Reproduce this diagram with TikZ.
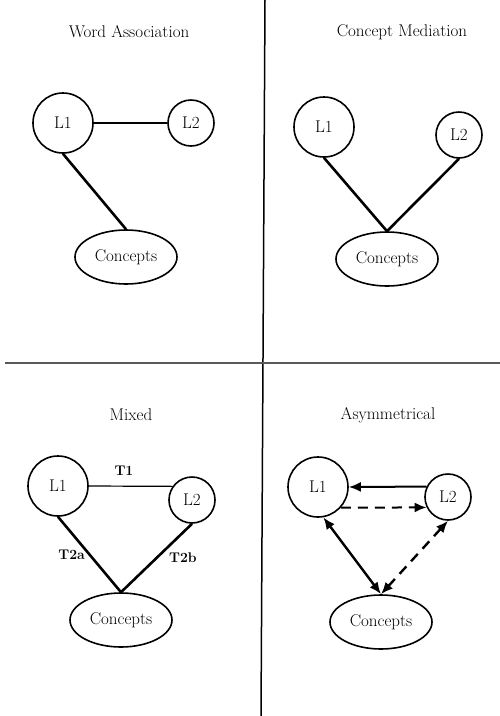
\documentclass[tikz,border=0pt]{standalone}
\usepackage{xcolor}
\usepackage{tikz}
\usetikzlibrary{shapes,arrows.meta,positioning}

\begin{document}
\begin{tikzpicture}[
    x=1pt, y=-1pt,
    on grid,
    font=\fontsize{17}{20}\selectfont,
    title/.style={inner sep=0pt},
    lexL1/.style={circle, draw, line width=1.6pt, inner sep=0pt, minimum size=60pt},
    lexL2/.style={circle, draw, line width=1.6pt, inner sep=0pt, minimum size=46pt},
    concept/.style={ellipse, draw, line width=1.6pt, inner sep=0pt, minimum width=102pt, minimum height=54pt},
    link/.style={line width=1.2pt},
    route/.style={line width=2.6pt},
    tag/.style={font=\fontsize{14}{16}\selectfont\bfseries},
    arrow/.style={-{Latex[length=12pt,width=10pt]}, line width=2pt},
    dasharrow/.style={arrow, dash pattern=on 10pt off 7pt}
]
\useasboundingbox (0,0) rectangle (500,716);

% frame of the four panels
\draw[line width=1.5pt] (265,0) -- (261,716);
\draw[line width=1.1pt, black!65] (5,363) -- (500,363);

% word association
\node[title] (wa) at (129,32) {Word Association};
\node[lexL1, below left=91pt and 66pt of wa] (waL1) {L1};
\node[lexL2, right=128pt of waL1] (waL2) {L2};
\node[concept, below right=134pt and 63pt of waL1] (waC) {Concepts};
\draw[link] (waL1.east) -- (waL2.west);
\draw[route] (waL1.south) -- (waC.north);

% concept mediation
\node[title] (cm) at (402,32) {Concept Mediation};
\node[lexL1, below left=95pt and 78pt of cm] (cmL1) {L1};
\node[lexL2, below right=103pt and 57pt of cm] (cmL2) {L2};
\node[concept, below left=227pt and 15pt of cm] (cmC) {Concepts};
\draw[route] (cmL1.south) -- (cmC.north);
\draw[route] (cmL2.south) -- (cmC.north);

% mixed
\node[title] (mx) at (131,415) {Mixed};
\node[lexL1, below left=71pt and 73pt of mx] (mxL1) {L1};
\node[lexL2, below right=85pt and 61pt of mx] (mxL2) {L2};
\node[concept, below left=205pt and 10pt of mx] (mxC) {Concepts};
\draw[link] (mxL1.east) -- node[tag, pos=0.42, above=7pt] {T1} (mxL2.145);
\draw[route] (mxL1.south) -- node[tag, left] {T2a} (mxC.north);
\draw[route] (mxL2.south) -- node[tag, right=8pt] {T2b} (mxC.north);

% asymmetrical
\node[title] (as) at (388,415) {Asymmetrical};
\node[lexL1, below left=72pt and 70pt of as] (asL1) {L1};
\node[lexL2, below right=82pt and 60pt of as] (asL2) {L2};
\node[concept, below left=207pt and 7pt of as] (asC) {Concepts};
\draw[arrow] (asL2.154) -- (asL1.east);
\draw[dasharrow] (asL1.-42) -- (asL2.206);
\draw[arrow, {Latex[length=12pt,width=10pt]}-{Latex[length=12pt,width=10pt]}, line width=2.4pt] (asL1.-80) -- (asC.north);
\draw[dasharrow, {Latex[length=12pt,width=10pt]}-{Latex[length=12pt,width=10pt]}, line width=2.4pt] (asL2.south) -- (asC.north);

\end{tikzpicture}
\end{document}
